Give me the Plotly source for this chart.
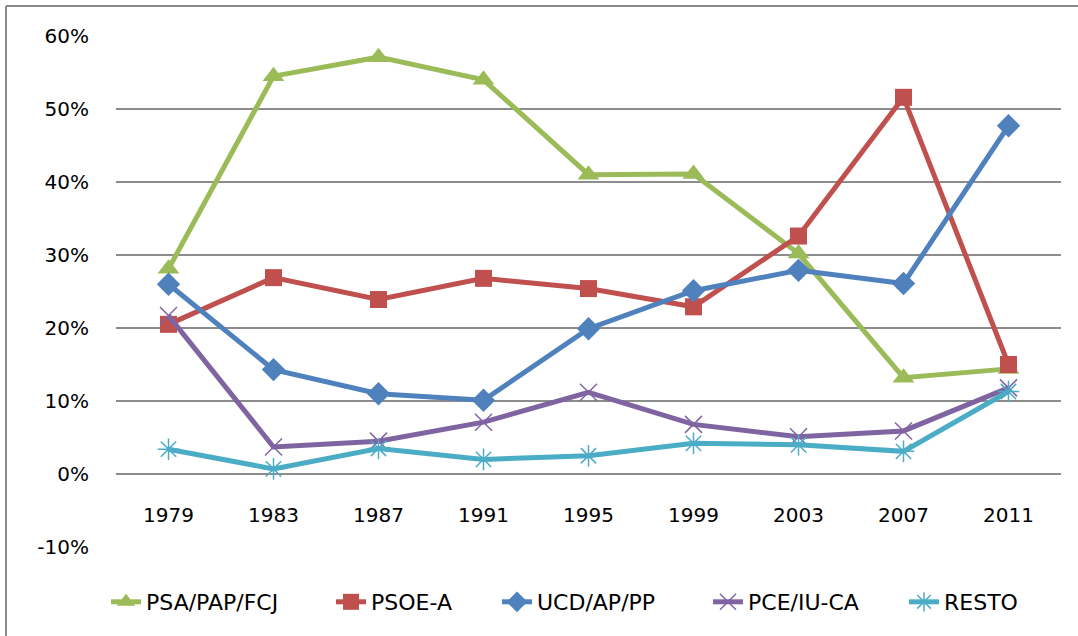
import plotly.graph_objects as go

years = ["1979", "1983", "1987", "1991", "1995", "1999", "2003", "2007", "2011"]
psa = [28.1, 54.5, 57.1, 54.0, 41.0, 41.1, 30.2, 13.2, 14.4]
psoe = [20.5, 26.9, 23.9, 26.8, 25.4, 22.9, 32.6, 51.6, 15.0]
ucd = [26.0, 14.3, 11.0, 10.1, 19.9, 25.1, 27.9, 26.1, 47.7]
pce = [21.7, 3.7, 4.5, 7.1, 11.2, 6.8, 5.1, 5.9, 11.8]
resto = [3.4, 0.7, 3.5, 2.0, 2.5, 4.2, 4.0, 3.1, 11.3]

y_ticks = [-0.1, 0.0, 0.1, 0.2, 0.3, 0.4, 0.5, 0.6]
y_labels = ["-10%", "0%", "10%", "20%", "30%", "40%", "50%", "60%"]

series = [
    ("PSA/PAP/FCJ", psa, "#9BBB59", dict(symbol="triangle-up", size=19), 180),
    ("PSOE-A", psoe, "#C0504D", dict(symbol="square", size=17), 121),
    ("UCD/AP/PP", ucd, "#4F81BD", dict(symbol="diamond", size=18), 166),
    ("PCE/IU-CA", pce, "#8064A2", dict(symbol="x-thin-open", size=17, line=dict(width=1.5, color="#8064A2")), 151),
    ("RESTO", resto, "#4BACC6", dict(symbol="asterisk-open", size=18, line=dict(width=1.5, color="#4BACC6")), 80),
]

fig = go.Figure()
for name, vals, color, mk, lw in series:
    m = dict(color=color, **mk)
    fig.add_trace(go.Scatter(
        x=years, y=[v / 100 for v in vals], name=name, mode="lines+markers",
        line=dict(color=color, width=5), marker=m, legendwidth=lw,
    ))

W, H = 1078, 636
L, R, T, B = 116, 17, 36, 89
pw, ph = W - L - R, H - T - B
zero_pos = (0.1) / 0.7
FONT = "DejaVu Sans"

fig.update_layout(
    width=W, height=H,
    margin=dict(l=L, r=R, t=T, b=B, autoexpand=False),
    paper_bgcolor="white", plot_bgcolor="white",
    font=dict(family=FONT, size=20, color="black"),
    showlegend=True,
    legend=dict(orientation="h", x=(106 - L) / pw, xanchor="left", y=(H - B - 602) / ph,
                yanchor="middle", font=dict(size=22), tracegroupgap=0),
    xaxis=dict(type="category", range=[-0.5, 8.5], showgrid=False, zeroline=False,
               showline=False, anchor="free", position=zero_pos,
               ticks="", ticklabelstandoff=27, tickfont=dict(size=20)),
    yaxis=dict(range=[-0.1, 0.6], tickmode="array", tickvals=y_ticks, ticktext=y_labels,
               showgrid=True, gridcolor="#8C8C8C", gridwidth=1.5, zeroline=False, showline=False,
               ticks="", ticklabelstandoff=26, tickfont=dict(size=20)),
    shapes=[
        dict(type="line", xref="paper", yref="paper", x0=(6 - L) / pw, x1=(6 - L) / pw,
             y0=(H - B - 6) / ph, y1=(H - B - 640) / ph, line=dict(color="#888888", width=2)),
        dict(type="line", xref="paper", yref="paper", x0=(6 - L) / pw, x1=(1080 - L) / pw,
             y0=(H - B - 6) / ph, y1=(H - B - 6) / ph, line=dict(color="#888888", width=2)),
    ],
)

fig.write_html("out.html", config={"displayModeBar": False},
               post_script="document.body.style.margin='0';document.body.style.overflow='hidden';")
